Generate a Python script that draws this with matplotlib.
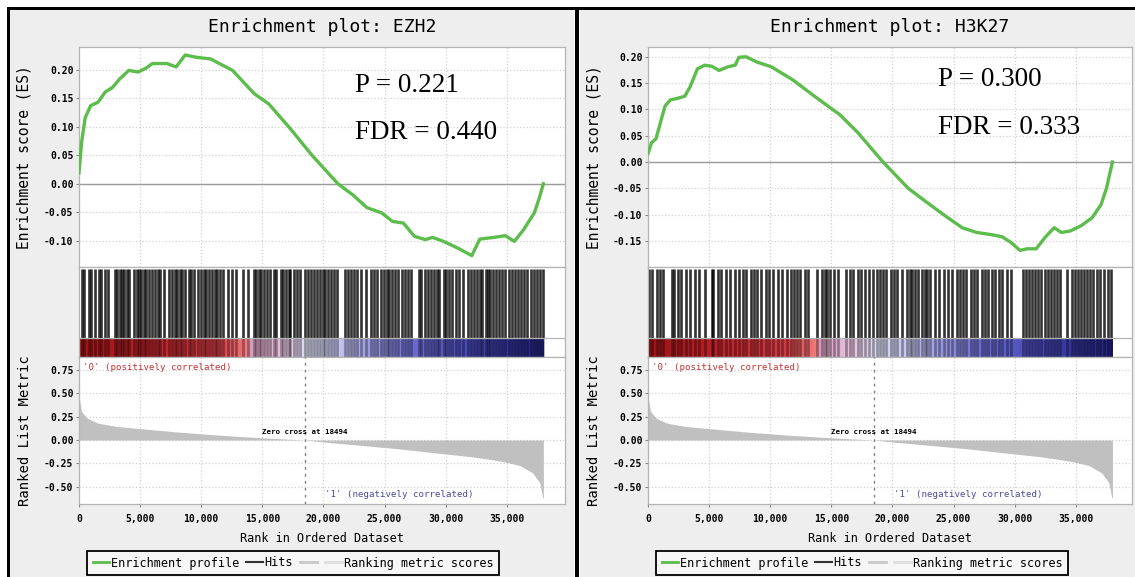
import numpy as np
import matplotlib.pyplot as plt
from matplotlib.colors import LinearSegmentedColormap
from matplotlib.lines import Line2D
from matplotlib.patches import Rectangle
from matplotlib.ticker import FuncFormatter, FormatStrFormatter

N = 38000
zero_cross = 18494

# ranked list metric (same ordered dataset in both plots)
metric_rank = [0, 208, 655, 1548, 3036, 5417, 8393, 11369, 14345, 18452, 20298,
               23274, 26250, 29226, 32202, 34583, 36071, 37113, 37708, 37946, 38000]
metric_val = [0.466, 0.306, 0.235, 0.181, 0.146, 0.117, 0.082, 0.053, 0.028, 0.0, -0.025,
              -0.060, -0.096, -0.139, -0.181, -0.228, -0.274, -0.352, -0.459, -0.619, -0.62]

# EZH2 running enrichment score
ezh2_rank = [0, 208, 506, 952, 1548, 2143, 2738, 3333, 4077, 4821, 5417, 6012, 7202, 7946,
             8690, 9583, 10774, 12560, 14345, 15536, 17321, 19107, 21190, 22381, 23571,
             24762, 25655, 26548, 27440, 28333, 28929, 29821, 31012, 32143, 32798, 33988,
             34881, 35625, 36369, 37262, 37708, 38000]
ezh2_es = [0.019, 0.072, 0.116, 0.137, 0.143, 0.161, 0.169, 0.184, 0.199, 0.196, 0.202,
           0.211, 0.211, 0.205, 0.226, 0.222, 0.219, 0.199, 0.158, 0.140, 0.096, 0.049,
           0.000, -0.019, -0.042, -0.051, -0.066, -0.069, -0.092, -0.098, -0.094, -0.101,
           -0.113, -0.126, -0.097, -0.094, -0.091, -0.101, -0.081, -0.051, -0.022, 0.000]
ezh2_hits = [250, 420, 800, 1000, 1300, 1620, 1760, 2150, 2350, 2950, 3080, 3380, 3550, 3700,
             3900, 4100, 4500, 4750, 4950, 5100, 5300, 5500, 5700, 5950, 6250, 6450, 6600,
             6950, 7350, 7600, 7880, 8050, 8250, 8450, 8650, 8980, 9200, 9450, 9700, 9950,
             10250, 10400, 10600, 10850, 11100, 11300, 11550, 11800, 12200, 12550, 12850,
             13400, 13800, 14300, 14500, 14700, 14900, 15100, 15350, 15600, 15950, 16150,
             16500, 16700, 16900, 17150, 17300, 17600, 17850, 18100, 18500, 18750, 19000,
             19250, 19500, 19750, 19950, 20150, 20400, 20650, 20900, 21150, 21800, 22000,
             22250, 22500, 22750, 23100, 23500, 23900, 24100, 24400, 24700, 24950, 25200,
             25400, 25600, 25850, 26100, 26450, 26700, 26950, 27150, 27800, 28000, 28300,
             28550, 28800, 29050, 29300, 29500, 29850, 30050, 30250, 30550, 30850, 31100,
             31400, 31800, 32100, 32350, 32550, 32800, 33000, 33300, 33480, 33650, 33900,
             34150, 34400, 34650, 34850, 35150, 35400, 35700, 35950, 36200, 36450, 36700,
             36950, 37200, 37450, 37700, 37950]

# H3K27 running enrichment score
h3k27_rank = [0, 295, 649, 1091, 1386, 1828, 2418, 3008, 3450, 4040, 4630, 5220, 5810, 6547,
              7137, 7432, 8021, 8906, 10086, 11855, 13624, 15689, 17163, 19227, 21291,
              23061, 24535, 25715, 26895, 28075, 28959, 29696, 30433, 31023, 31760, 32497,
              33235, 33825, 34562, 35447, 36332, 37069, 37511, 38000]
h3k27_es = [0.016, 0.037, 0.044, 0.081, 0.106, 0.118, 0.121, 0.125, 0.143, 0.177, 0.184,
            0.182, 0.174, 0.181, 0.184, 0.199, 0.200, 0.190, 0.181, 0.156, 0.125, 0.090,
            0.056, 0.000, -0.050, -0.081, -0.106, -0.125, -0.134, -0.138, -0.142, -0.153,
            -0.168, -0.165, -0.165, -0.143, -0.125, -0.134, -0.131, -0.121, -0.106, -0.081,
            -0.050, 0.000]
h3k27_hits = [100, 350, 700, 950, 1250, 2000, 2150, 2450, 2700, 3100, 3450, 3850, 4200, 4650,
              5200, 5330, 5750, 5980, 6350, 6700, 7100, 7450, 7750, 8050, 8400, 8650, 8900,
              9250, 9650, 9900, 10250, 10600, 11000, 11350, 11700, 11950, 12200, 12450,
              12850, 13100, 13800, 14200, 14450, 14650, 14900, 15200, 15550, 16200, 16550,
              16800, 17150, 17400, 17750, 18050, 18400, 18700, 18950, 19200, 19500, 19900,
              20150, 20400, 20800, 21150, 21400, 21600, 21850, 22050, 22400, 22650, 22850,
              23050, 23450, 23800, 24200, 24550, 24900, 25250, 25500, 25750, 26000, 26400,
              26650, 26900, 27300, 27550, 27800, 28150, 28400, 28750, 28950, 29350, 29700,
              30650, 30900, 31200, 31400, 31650, 31900, 32150, 32500, 32700, 33000, 33250,
              33450, 33700, 34300, 34700, 34950, 35200, 35450, 35700, 35950, 36200, 36400,
              36700, 36950, 37300, 37600, 37900]

W, H = 1135, 577
MONO = 'DejaVu Sans Mono'

band_cmap = LinearSegmentedColormap.from_list('band', [
    (0.0, '#9a1418'), (0.15, '#b82228'), (0.30, '#d23c44'), (0.36, '#f07a7a'),
    (0.37, '#d89cc0'), (0.44, '#e8c4e0'), (0.49, '#dcdcf2'), (0.56, '#c4c4ee'),
    (0.63, '#9898e0'), (0.72, '#6a6ad0'), (0.86, '#4242b0'), (1.0, '#22227e')])


def box(x0, y0, x1, y1):
    return [x0 / W, 1 - y1 / H, (x1 - x0) / W, (y1 - y0) / H]


def style_spines(ax):
    for s in ax.spines.values():
        s.set_color('#b4b4b4')
        s.set_linewidth(0.9)


def draw_panel(fig, px0, px1, xmax, title, rank, es, hits, es_lim, es_ticks, p_txt, fdr_txt,
               p_pos, fdr_pos, legend_x):
    # title
    fig.text((px0 + px1) / 2 / W, 1 - 27 / H, title, ha='center', va='center',
             family=MONO, fontsize=13)

    # running ES
    ax1 = fig.add_axes(box(px0, 47, px1, 267))
    ax1.plot(rank, es, color='#5cbc4c', lw=2.4, zorder=3)
    ax1.axhline(0, color='#9a9a9a', lw=1.0, zorder=2)
    ax1.set_xlim(0, xmax)
    ax1.set_ylim(*es_lim)
    ax1.set_yticks(es_ticks)
    ax1.set_xticks(np.arange(0, 40000, 5000))
    ax1.tick_params(axis='x', length=0, labelbottom=False)
    ax1.tick_params(axis='y', length=2, pad=2, labelsize=7, color='#888888')
    ax1.yaxis.set_major_formatter(FormatStrFormatter('%.2f'))
    ax1.grid(True, color='#d0d0d0', linestyle=':', linewidth=0.9)
    ax1.set_ylabel('Enrichment score (ES)', family=MONO, fontsize=10.5)
    ax1.yaxis.set_label_coords(-0.097, 0.5)
    ax1.text(p_pos[0], p_pos[1], p_txt, transform=ax1.transAxes, family='Liberation Serif',
             fontsize=19.5, va='center', ha='left')
    ax1.text(fdr_pos[0], fdr_pos[1], fdr_txt, transform=ax1.transAxes, family='Liberation Serif',
             fontsize=19.5, va='center', ha='left')
    style_spines(ax1)

    # hits + colour band
    ax2 = fig.add_axes(box(px0, 267, px1, 357))
    ax2.imshow(np.linspace(0, 1, 600)[None, :], cmap=band_cmap, aspect='auto',
               extent=(0, N, 0, 0.211), zorder=1)
    ax2.vlines(hits, 0.211, 0.978, color='black', lw=1.9, alpha=0.8, zorder=2)
    ax2.vlines(hits, 0, 0.211, color='black', lw=1.9, alpha=0.35, zorder=2)
    ax2.axhline(0.211, color='#b4b4b4', lw=0.9, zorder=3)
    ax2.set_xlim(0, xmax)
    ax2.set_ylim(0, 1)
    ax2.set_xticks([])
    ax2.set_yticks([])
    style_spines(ax2)

    # ranked list metric
    ax3 = fig.add_axes(box(px0, 357, px1, 504))
    ax3.fill_between(metric_rank, metric_val, 0, color='#c0c0c0', lw=0, zorder=2)
    ax3.axvline(zero_cross, color='#808080', ls=(0, (2, 3)), lw=1.0, zorder=3)
    ax3.set_xlim(0, xmax)
    ax3.set_ylim(-0.687, 0.891)
    ax3.set_yticks([-0.5, -0.25, 0, 0.25, 0.5, 0.75])
    ax3.set_xticks(np.arange(0, 40000, 5000))
    ax3.yaxis.set_major_formatter(FormatStrFormatter('%.2f'))
    ax3.xaxis.set_major_formatter(FuncFormatter(lambda v, pos: f'{int(v):,}'))
    ax3.tick_params(length=2, pad=2, labelsize=7, color='#888888')
    ax3.tick_params(axis='x', pad=5)
    ax3.grid(True, color='#d0d0d0', linestyle=':', linewidth=0.9)
    ax3.set_ylabel('Ranked List Metric', family=MONO, fontsize=10)
    ax3.yaxis.set_label_coords(-0.097, 0.5)
    ax3.set_xlabel('Rank in Ordered Dataset', family=MONO, fontsize=8.5)
    ax3.xaxis.set_label_coords(0.5, -0.19)
    for lab in ax3.get_xticklabels() + ax3.get_yticklabels() + ax1.get_yticklabels():
        lab.set_family(MONO)
        lab.set_fontweight('bold')
    ax3.text(300, 0.78, "'0' (positively correlated)", color='#c83232', family=MONO,
             fontsize=6.6, va='center')
    ax3.text(zero_cross, 0.086, f'Zero cross at {zero_cross}', color='black', family=MONO,
             fontsize=5.4, fontweight='bold', ha='center', va='center')
    ax3.text(26200, -0.59, "'1' (negatively correlated)", color='#4b4ba0', family=MONO,
             fontsize=6.6, ha='center', va='center')
    style_spines(ax3)

    handles = [Line2D([], [], color='#5cbc4c', lw=2),
               Line2D([], [], color='#333333', lw=1.5),
               Line2D([], [], color='#c8c8c8', lw=2),
               Line2D([], [], color='#dddddd', lw=2)]
    labels = ['Enrichment profile', 'Hits', '', 'Ranking metric scores']
    leg = fig.legend(handles, labels, loc='center', bbox_to_anchor=(legend_x / W, 1 - 563 / H),
                     ncol=4, fancybox=False, edgecolor='black', facecolor='#f6f6f6',
                     prop={'family': MONO, 'size': 8.5}, handlelength=1.4, handletextpad=0.15,
                     columnspacing=0.6, borderpad=0.45, framealpha=1)
    leg.get_frame().set_linewidth(1.3)


fig = plt.figure(figsize=(W / 100, H / 100), dpi=100)
fig.patch.set_facecolor('white')

# panel backgrounds and black frame
for x0, y0, x1, y1, c in [(10, 10, 574, 577, '#eeeeee'), (580, 10, 1135, 577, '#eeeeee'),
                          (7, 7, 10, 577, 'black'), (7, 7, 1135, 10, 'black'),
                          (575, 7, 579, 577, 'black')]:
    fig.add_artist(Rectangle((x0 / W, 1 - y1 / H), (x1 - x0) / W, (y1 - y0) / H,
                             transform=fig.transFigure, color=c, lw=0, zorder=-5))

draw_panel(fig, 79, 565, 39770, 'Enrichment plot: EZH2', ezh2_rank, ezh2_es, ezh2_hits,
           (-0.146, 0.240), [-0.10, -0.05, 0, 0.05, 0.10, 0.15, 0.20],
           'P = 0.221', 'FDR = 0.440', (0.568, 0.827), (0.568, 0.61), 293)
draw_panel(fig, 648, 1132, 39600, 'Enrichment plot: H3K27', h3k27_rank, h3k27_es, h3k27_hits,
           (-0.1996, 0.2186), [-0.15, -0.10, -0.05, 0, 0.05, 0.10, 0.15, 0.20],
           'P = 0.300', 'FDR = 0.333', (0.60, 0.85), (0.60, 0.636), 862)

fig.savefig('out.png', dpi=100)
